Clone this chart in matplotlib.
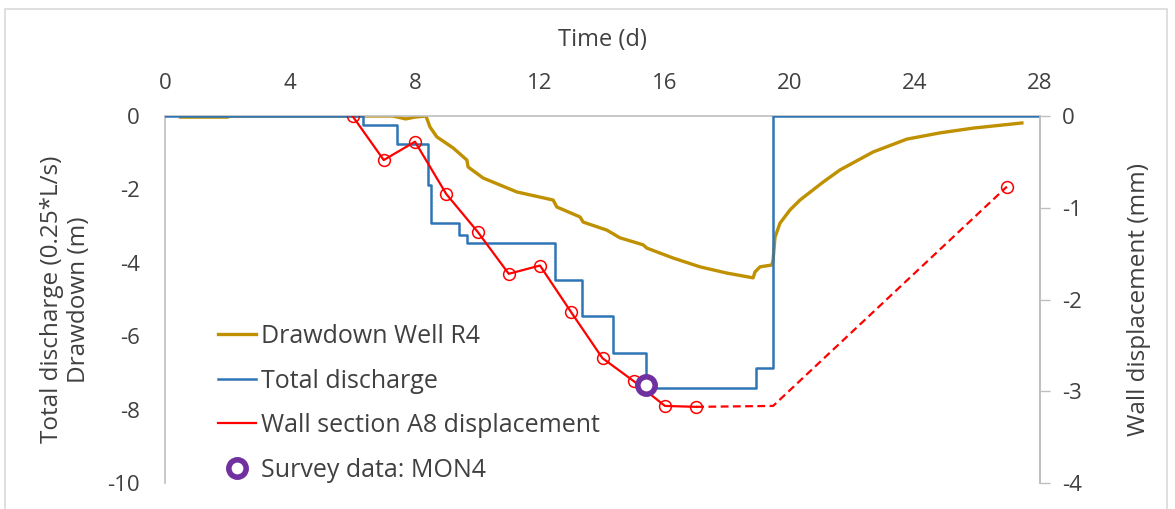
import numpy as np
import matplotlib
matplotlib.use("Agg")
import matplotlib.pyplot as plt
from matplotlib.patches import Rectangle

plt.rcParams['font.family'] = ['Open Sans', 'DejaVu Sans']
plt.rcParams['axes.unicode_minus'] = False

# Drawdown in well R4 (m)
dd_t = [0.5, 2.0, 2.1, 6.6, 7.3, 7.7, 8.0, 8.35, 8.48, 8.7, 9.22, 9.66, 9.7, 10.18,
        11.26, 12.42, 12.54, 13.28, 13.38, 14.14, 14.56, 15.3, 15.42, 16.26, 17.12,
        17.98, 18.82, 18.88, 19.04, 19.42, 19.46, 19.52, 19.68, 20.0, 20.32, 21.06,
        21.6, 22.66, 23.74, 24.8, 25.86, 27.42]
dd_v = [-0.03, -0.03, 0.0, 0.0, 0.0, -0.08, -0.03, 0.0, -0.3, -0.57, -0.87, -1.2, -1.39, -1.69,
        -2.07, -2.29, -2.48, -2.75, -2.89, -3.11, -3.32, -3.51, -3.6, -3.87, -4.11,
        -4.28, -4.41, -4.25, -4.11, -4.06, -3.92, -3.3, -2.92, -2.56, -2.29, -1.8,
        -1.47, -0.98, -0.63, -0.46, -0.33, -0.19]

# Total discharge (0.25*L/s), step changes
q_t = [0.0, 6.34, 7.42, 8.4, 8.5, 9.4, 9.66, 12.48, 13.34, 14.34, 15.4, 18.9, 19.46, 28.0]
q_v = [0.0, -0.25, -0.75, -1.88, -2.92, -3.24, -3.46, -4.47, -5.45, -6.46, -7.41, -6.87, 0.0, 0.0]

# Wall section A8 displacement (mm)
wall_t = [6, 7, 8, 9, 10, 11, 12, 13, 14, 15, 16, 17]
wall_v = [0.0, -0.48, -0.28, -0.85, -1.26, -1.72, -1.63, -2.14, -2.64, -2.89, -3.16, -3.17]
gap_t = [17, 19.46, 26.94]
gap_v = [-3.17, -3.16, -0.77]

# Survey data MON4 (mm)
mon_t = [15.39]
mon_v = [-2.93]

gold = '#BF9000'
blue = '#2E75B6'
red = '#FF0000'
purple = '#7030A0'
grey = '#BFBFBF'
txt = '#404040'

fig = plt.figure(figsize=(11.75, 5.09), dpi=100)
fig.patches.append(Rectangle((5 / 1175, -0.05), 1162 / 1175, 1.05 - 9 / 509,
                             transform=fig.transFigure, fill=False,
                             edgecolor='#D9D9D9', linewidth=1.2))

ax = fig.add_axes([165 / 1175, 1 - 483 / 509, 875 / 1175, 367 / 509])
ax2 = ax.twinx()

l1, = ax.plot(dd_t, dd_v, color=gold, lw=2.4, label='Drawdown Well R4', zorder=2)
l2, = ax.step(q_t, q_v, where='post', color=blue, lw=1.8, label='Total discharge', zorder=3)

ax2.plot(gap_t, gap_v, color=red, lw=1.6, ls=(0, (3.5, 2)), zorder=3)
ax2.plot(gap_t[-1:], gap_v[-1:], 'o', mfc='none', mec=red, ms=8.5, mew=1.1)
l3, = ax2.plot(wall_t, wall_v, color=red, lw=1.6, marker='o', mfc='none', mec=red,
               ms=8.5, mew=1.1, label='Wall section A8 displacement', zorder=4)
l4, = ax2.plot(mon_t, mon_v, 'o', mfc='white', mec=purple, ms=12.5, mew=4,
               label='Survey data: MON4', zorder=5)

ax.set_xlim(0, 28)
ax.set_ylim(-10, 0)
ax2.set_ylim(-4, 0)
ax.set_xticks(np.arange(0, 29, 4))
ax.set_yticks(np.arange(-10, 1, 2))
ax2.set_yticks(np.arange(-4, 1, 1))

ax.xaxis.tick_top()
ax.xaxis.set_label_position('top')
ax.tick_params(axis='x', length=0, pad=16, labelsize=16, labelcolor=txt)
ax.tick_params(axis='y', length=0, pad=18, labelsize=16, labelcolor=txt)
ax2.tick_params(axis='y', length=7, width=1, color=grey, pad=9, labelsize=16, labelcolor=txt)

for a in (ax, ax2):
    a.spines['bottom'].set_visible(False)
    for s in ('top', 'left', 'right'):
        a.spines[s].set_color(grey)
        a.spines[s].set_linewidth(1.2)
ax2.spines['left'].set_visible(False)
ax2.spines['top'].set_visible(False)

ax.set_xlabel('Time (d)', fontsize=17, color=txt, labelpad=19)
ax.set_ylabel('Total discharge (0.25*L/s)\nDrawdown (m)', fontsize=17.5, color=txt,
              labelpad=12, linespacing=1.15)
ax2.set_ylabel('Wall displacement (mm)', fontsize=17.5, color=txt, labelpad=32)

leg = ax2.legend(handles=[l1, l2, l3, l4], loc='lower left',
                 bbox_to_anchor=(0.035, -0.06), frameon=False, fontsize=18,
                 handlelength=1.5, handletextpad=0.2, labelspacing=0.78,
                 labelcolor=txt)
# the wall series key is shown as a plain line
leg.legend_handles[2].set_marker('')

fig.savefig('out.png', dpi=100)
